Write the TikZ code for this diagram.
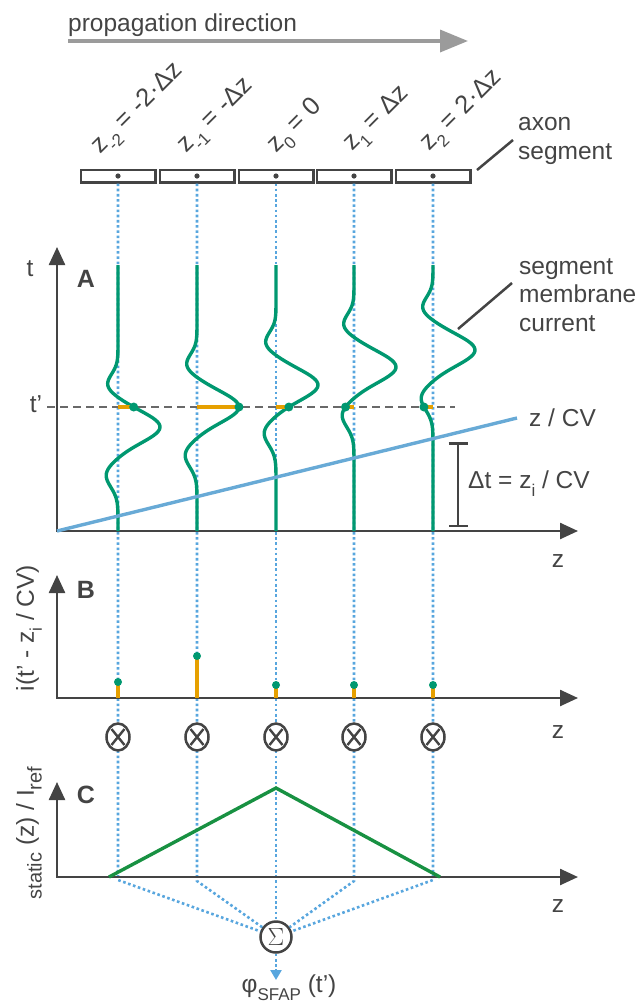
\documentclass[tikz,border=0pt]{standalone}
\usepackage{fontspec}
\setmainfont{Liberation Sans}
\usetikzlibrary{positioning, arrows.meta, shapes.geometric}
\definecolor{axcol}{RGB}{68,68,68}
\definecolor{propcol}{RGB}{155,155,155}
\definecolor{curvecol}{RGB}{0,152,112}
\definecolor{tricol}{RGB}{24,145,66}
\definecolor{cvcol}{RGB}{104,170,214}
\definecolor{dotcol}{RGB}{88,166,222}
\definecolor{ampcol}{RGB}{230,160,0}
\newcommand{\lowsub}[1]{\raisebox{-0.32em}{\fontsize{17}{17}\selectfont #1}}
\newcommand{\bigsub}[1]{\raisebox{-0.32em}{\fontsize{20}{20}\selectfont #1}}
\pgfmathdeclarefunction{gs}{2}{\pgfmathparse{exp(0-(#1/#2)*(#1/#2))}}
\pgfmathdeclarefunction{iw}{1}{\pgfmathparse{42*gs(#1,21)-11*gs(#1+42,15)-12*gs(#1-48,17)}}

\begin{document}
\begin{tikzpicture}[x=1pt, y=-1pt,
    lbl/.style={font=\fontsize{24.5}{28.5}\selectfont, text=axcol, inner sep=0pt},
    panel/.style={font=\fontsize{25}{28}\selectfont\bfseries, text=axcol, inner sep=0pt},
    zlab/.style={lbl, font=\fontsize{25.5}{28}\selectfont, rotate=45, anchor=base west},
    segbox/.style={rectangle, draw=axcol, fill=white, line width=2.5pt, minimum width=74.5pt, minimum height=12.5pt, inner sep=0pt},
    otim/.style={ellipse, draw=axcol, fill=white, line width=2.5pt, minimum width=23pt, minimum height=27pt, inner sep=0pt,
        path picture={\draw[axcol, line width=2.4pt]
            ([shift={(5pt,5.5pt)}]path picture bounding box.south west) -- ([shift={(-5pt,-5.5pt)}]path picture bounding box.north east)
            ([shift={(5pt,-5.5pt)}]path picture bounding box.north west) -- ([shift={(-5pt,5.5pt)}]path picture bounding box.south east);}},
    sumnode/.style={circle, draw=axcol, fill=white, line width=2.5pt, minimum size=31pt, inner sep=0pt, font=\fontsize{25}{25}\selectfont, text=axcol},
    axis/.style={draw=axcol, line width=2.5pt, {Triangle[length=18pt,width=16pt]}-{Triangle[length=18pt,width=16pt]}},
    bracket/.style={draw=axcol, line width=2.5pt, {Bar[width=19pt]}-{Bar[width=19pt]}},
    leader/.style={draw=axcol, line width=2.5pt},
    proparrow/.style={draw=propcol, line width=3.5pt, -{Triangle[length=28pt,width=22pt]}},
    tdash/.style={draw=axcol!80, line width=2pt, dash pattern=on 8pt off 5pt},
    dotline/.style={draw=dotcol, line width=2.6pt, dash pattern=on 2.6pt off 2.6pt},
    curve/.style={draw=curvecol, line width=3.4pt, line join=round},
    cvline/.style={draw=cvcol, line width=3.4pt},
    amp/.style={draw=ampcol, line width=3.4pt},
    tri/.style={draw=tricol, line width=3.4pt}]

    \useasboundingbox (0,0) rectangle (635,1005);

    \node[lbl, anchor=base west] (prop) at (68,31) {propagation direction};
    \coordinate (p0) at (68,41);
    \coordinate (p1) at (468,41);
    \draw[proparrow] (p0) -- (p1);

    \node[segbox] (s1) at (118,176) {};
    \node[segbox] (s2) at (197,176) {};
    \node[segbox] (s3) at (276,176) {};
    \node[segbox] (s4) at (354,176) {};
    \node[segbox] (s5) at (433,176) {};

    \node[zlab] (zl1) at (100,155) {z\lowsub{-2} = -2·Δz};
    \node[zlab] (zl2) at (186,154) {z\lowsub{-1} = -Δz};
    \node[zlab] (zl3) at (276,154) {z\lowsub{0} = 0};
    \node[zlab] (zl4) at (352,152) {z\lowsub{1} = Δz};
    \node[zlab] (zl5) at (429,152) {z\lowsub{2} = 2·Δz};

    \node[lbl, anchor=base west, align=left] (axlbl) at (518,159) {axon\\segment};
    \coordinate (ax0) at (477,170);
    \coordinate (ax1) at (513,140);
    \draw[leader] (ax0) -- (ax1);

    \node[sumnode] (sum) at (276,937) {$\Sigma$};
    \coordinate (b1) at (118,880);
    \coordinate (b2) at (197,881);
    \coordinate (b3) at (276,880);
    \coordinate (b4) at (354,881);
    \coordinate (b5) at (433,880);
    \draw[dotline] (s1) -- (b1) -- (sum);
    \draw[dotline] (s2) -- (b2) -- (sum);
    \draw[dotline] (s3) -- (b3) -- (sum);
    \draw[dotline] (s4) -- (b4) -- (sum);
    \draw[dotline] (s5) -- (b5) -- (sum);
    \coordinate (phi) at (276,980);
    \draw[dotline, -{Triangle[length=10pt,width=11pt]}] (sum) -- (phi);
    \node[lbl, anchor=north] (philbl) at (289,975) {φ\lowsub{SFAP} (t’)};

    \fill[axcol] (s1) circle[radius=2.6pt];
    \fill[axcol] (s2) circle[radius=2.6pt];
    \fill[axcol] (s3) circle[radius=2.6pt];
    \fill[axcol] (s4) circle[radius=2.6pt];
    \fill[axcol] (s5) circle[radius=2.6pt];

    % A: membrane currents
    \coordinate (oA) at (57,531);
    \coordinate (tA) at (57,247);
    \coordinate (zA) at (578,531);
    \coordinate (d0) at (47,407);
    \coordinate (d1) at (455,407);
    \draw[tdash] (d0) -- (d1);
    \draw[axis] (tA) -- (oA) -- (zA);
    \node[lbl] (tlbl) at (30,269) {t};
    \node[lbl] (tplbl) at (36,404) {t’};
    \node[panel] (pa) at (86,279) {A};
    \node[lbl] (zlA) at (558,561) {z};

    \draw[curve] plot[domain=-162:104, samples=140] ({118+iw(\x)}, {427+\x});
    \draw[curve] plot[domain=-142:124, samples=140] ({197+iw(\x)}, {407+\x});
    \draw[curve] plot[domain=-120:146, samples=140] ({276+iw(\x)}, {385+\x});
    \draw[curve] plot[domain=-102:164, samples=140] ({354+iw(\x)}, {367+\x});
    \draw[curve] plot[domain=-85:181, samples=140] ({433+iw(\x)}, {350+\x});

    \draw[amp] (118,407) -- ({118+iw(-20)},407);
    \draw[amp] (197,407) -- ({197+iw(0)},407);
    \draw[amp] (276,407) -- ({276+iw(22)},407);
    \draw[amp] (354,407) -- ({354+iw(40)},407);
    \draw[amp] (433,407) -- ({433+iw(57)},407);
    \fill[curvecol] ({118+iw(-20)},407) circle[radius=4.5pt];
    \fill[curvecol] ({197+iw(0)},407) circle[radius=4.5pt];
    \fill[curvecol] ({276+iw(22)},407) circle[radius=4.5pt];
    \fill[curvecol] ({354+iw(40)},407) circle[radius=4.5pt];
    \fill[curvecol] ({433+iw(57)},407) circle[radius=4.5pt];

    \coordinate (cvend) at (517,418);
    \draw[cvline] (oA) -- (cvend);
    \node[lbl, anchor=west] (cvlbl) at (529,418) {z / CV};

    \coordinate (dt0) at (458,442);
    \coordinate (dt1) at (458,527);
    \draw[bracket] (dt0) -- (dt1);
    \node[lbl, anchor=west] (dtlbl) at (468,484) {Δt = z\lowsub{i} / CV};

    \node[lbl, anchor=base west, align=left] (mclbl) at (519,331) {segment\\membrane\\current};
    \coordinate (mc0) at (458,329);
    \coordinate (mc1) at (512,283);
    \draw[leader] (mc0) -- (mc1);

    % B: sampled currents
    \coordinate (oB) at (57,698);
    \coordinate (tB) at (57,575);
    \coordinate (zB) at (578,698);
    \draw[axis] (tB) -- (oB) -- (zB);
    \node[panel] (pb) at (86,590) {B};
    \node[lbl] (zlB) at (558,732) {z};
    \node[lbl, rotate=90] (ylB) at (29,628) {i(t’ - z\lowsub{i} / CV)};

    \draw[amp] (118,698) -- (118,682);
    \draw[amp] (197,698) -- (197,656);
    \draw[amp] (276,698) -- (276,685);
    \draw[amp] (354,698) -- (354,685);
    \draw[amp] (433,698) -- (433,685);
    \fill[curvecol] (118,682) circle[radius=4pt];
    \fill[curvecol] (197,656) circle[radius=4pt];
    \fill[curvecol] (276,685) circle[radius=4pt];
    \fill[curvecol] (354,685) circle[radius=4pt];
    \fill[curvecol] (433,685) circle[radius=4pt];

    \node[otim] (m1) at (118,737) {};
    \node[otim] (m2) at (197,737) {};
    \node[otim] (m3) at (276,737) {};
    \node[otim] (m4) at (354,737) {};
    \node[otim] (m5) at (433,737) {};

    % C: static potential
    \coordinate (oC) at (57,877);
    \coordinate (tC) at (57,782);
    \coordinate (zC) at (578,877);
    \draw[axis] (tC) -- (oC) -- (zC);
    \node[panel] (pc) at (86,795) {C};
    \node[lbl] (zlC) at (558,906) {z};
    \node[lbl, rotate=90] (ylC) at (29,833) {\bigsub{static} (z) / I\bigsub{ref}};

    \coordinate (c0) at (109,877);
    \coordinate (c1) at (276,788);
    \coordinate (c2) at (440,877);
    \draw[tri] (c0) -- (c1) -- (c2);
  \end{tikzpicture}
\end{document}
